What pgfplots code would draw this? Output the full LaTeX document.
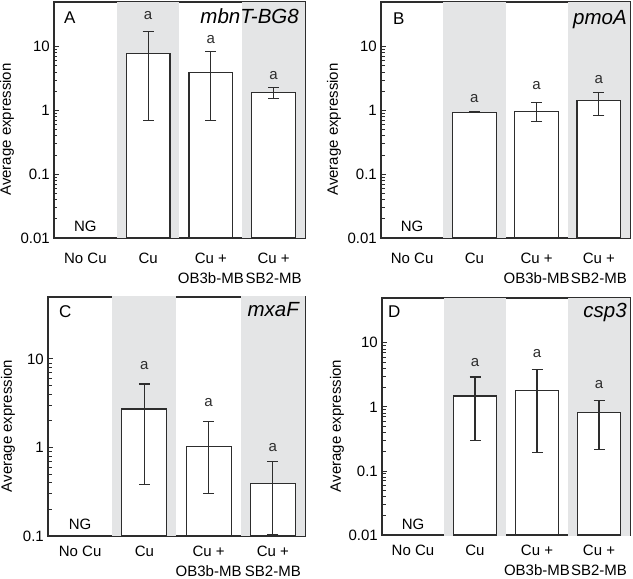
\documentclass[border=0pt]{standalone}
\usepackage{fontspec}
\setmainfont{Liberation Sans}
\usepackage{pgfplots}
\pgfplotsset{compat=1.18}
\usepackage{pgfplotstable}

\definecolor{band}{RGB}{228,229,230}
\definecolor{ink}{RGB}{45,45,45}

% x = category, y = mean, ep/em = error up/down, a = position of letter
\pgfplotstableread{
x y ep em a
1 7.9 9.2 7.2 27.0
2 3.95 4.45 3.25 11.0
3 1.93 0.37 0.40 3.03
}\dataA
\pgfplotstableread{
x y ep em a
1 0.94 0.02 0.02 1.35
2 0.97 0.38 0.31 2.1
3 1.43 0.50 0.59 2.6
}\dataB
\pgfplotstableread{
x y ep em a
1 2.72 2.48 2.34 7.55
2 1.02 0.93 0.715 2.89
3 0.39 0.30 0.286 0.91
}\dataC
\pgfplotstableread{
x y ep em a
1 1.48 1.44 1.18 4.24
2 1.82 2.03 1.624 5.85
3 0.82 0.42 0.607 1.95
}\dataD

\pgfplotsset{
  mypanel/.style={
    scale only axis,
    anchor=south west,
    log origin y=infty,
    xmin=-0.5, xmax=3.5,
    ymax=50,
    xtick={0,1,2,3},
    xticklabels={No Cu, Cu, {Cu +\\[2.5pt]OB3b-MB}, {Cu +\\[2.5pt]SB2-MB}},
    major x tick style={draw=none},
    ytick pos=left,
    tick align=inside,
    major tick length=5pt, minor tick length=3.5pt,
    yticklabel style={font=\fontsize{15}{18}\selectfont, inner xsep=0pt, xshift=-4pt},
    log ticks with fixed point,
    /pgf/number format/assume math mode=true,
    axis line style={ink, line width=1.2pt},
    every tick/.style={ink, line width=0.8pt},
    ylabel={Average expression},
  },
  myxlab/.style={xticklabel style={align=center, font=\fontsize{15}{17.5}\selectfont, yshift=-#1}},
  myylshift/.style={every axis y label/.style={at={([xshift=-#1]axis description cs:0,0.46)}, rotate=90, anchor=center, font=\fontsize{15}{18}\selectfont}},
  mybars/.style={ybar, bar width=0.7, fill=white, draw=ink, line width=1.2pt,
    error bars/.cd, y dir=both, y explicit,
    error bar style={ink, line width=1.1pt},
    error mark options={ink, line width=1.1pt, mark size=5.5pt, rotate=90}},
  myletters/.style={draw=none, mark=none, nodes near coords={a},
    every node near coord/.append style={anchor=base, inner sep=0pt, font=\fontsize{15}{18}\selectfont, text=ink}},
}

\newcommand{\bands}{%
  \addplot[fill=band, draw=none, forget plot] coordinates {(0.5,1e-4) (1.5,1e-4) (1.5,1e4) (0.5,1e4)} -- cycle;
  \addplot[fill=band, draw=none, forget plot] coordinates {(2.5,1e-4) (3.5,1e-4) (3.5,1e4) (2.5,1e4)} -- cycle;
}

\begin{document}
\begin{tikzpicture}
\useasboundingbox (0,0) rectangle (633pt,579pt);

% Panel A
\begin{axis}[ymode=log, mypanel, myxlab=11pt, myylshift=47pt, at={(54pt,341pt)}, width=251pt, height=236pt,
  ymin=0.01, ytick={0.01,0.1,1,10}]
  \bands
  \addplot[mybars] table[x=x, y=y, y error plus=ep, y error minus=em]{\dataA};
  \addplot[myletters] table[x=x, y=a]{\dataA};
  \node[anchor=base west, inner sep=0pt, font=\fontsize{17}{20}\selectfont] at ([xshift=10pt,yshift=-21pt]rel axis cs:0,1) {A};
  \node[anchor=base east, inner sep=0pt, font=\fontsize{20.5}{24}\selectfont\itshape] at ([xshift=-6pt,yshift=-21pt]rel axis cs:1,1) {mbnT-BG8};
  \node[anchor=base, inner sep=0pt, font=\fontsize{15}{18}\selectfont] at ([yshift=6pt]rel axis cs:0.125,0) {NG};
\end{axis}

% Panel B
\begin{axis}[ymode=log, mypanel, myxlab=11pt, myylshift=47pt, at={(381pt,341pt)}, width=249pt, height=236pt,
  ymin=0.01, ytick={0.01,0.1,1,10}]
  \bands
  \addplot[mybars] table[x=x, y=y, y error plus=ep, y error minus=em]{\dataB};
  \addplot[myletters] table[x=x, y=a]{\dataB};
  \node[anchor=base west, inner sep=0pt, font=\fontsize{17}{20}\selectfont] at ([xshift=12pt,yshift=-22pt]rel axis cs:0,1) {B};
  \node[anchor=base east, inner sep=0pt, font=\fontsize{20.5}{24}\selectfont\itshape] at ([xshift=-3pt,yshift=-22pt]rel axis cs:1,1) {pmoA};
  \node[anchor=base, inner sep=0pt, font=\fontsize{15}{18}\selectfont] at ([yshift=6pt]rel axis cs:0.125,0) {NG};
\end{axis}

% Panel C
\begin{axis}[ymode=log, mypanel, myxlab=6pt, myylshift=40pt, at={(48pt,43pt)}, width=257pt, height=239pt,
  ymin=0.1, ytick={0.1,1,10}]
  \bands
  \addplot[mybars] table[x=x, y=y, y error plus=ep, y error minus=em]{\dataC};
  \addplot[myletters] table[x=x, y=a]{\dataC};
  \node[anchor=base west, inner sep=0pt, font=\fontsize{17}{20}\selectfont] at ([xshift=11pt,yshift=-21pt]rel axis cs:0,1) {C};
  \node[anchor=base east, inner sep=0pt, font=\fontsize{20.5}{24}\selectfont\itshape] at ([xshift=-6pt,yshift=-20pt]rel axis cs:1,1) {mxaF};
  \node[anchor=base, inner sep=0pt, font=\fontsize{15}{18}\selectfont] at ([yshift=6pt]rel axis cs:0.125,0) {NG};
\end{axis}

% Panel D
\begin{axis}[ymode=log, mypanel, myxlab=6pt, myylshift=45pt, at={(382pt,44pt)}, width=248pt, height=237pt,
  ymin=0.01, ytick={0.01,0.1,1,10}]
  \bands
  \addplot[mybars] table[x=x, y=y, y error plus=ep, y error minus=em]{\dataD};
  \addplot[myletters] table[x=x, y=a]{\dataD};
  \node[anchor=base west, inner sep=0pt, font=\fontsize{17}{20}\selectfont] at ([xshift=6pt,yshift=-19pt]rel axis cs:0,1) {D};
  \node[anchor=base east, inner sep=0pt, font=\fontsize{20.5}{24}\selectfont\itshape] at ([xshift=-3pt,yshift=-19pt]rel axis cs:1,1) {csp3};
  \node[anchor=base, inner sep=0pt, font=\fontsize{15}{18}\selectfont] at ([yshift=6pt]rel axis cs:0.125,0) {NG};
\end{axis}
\end{tikzpicture}
\end{document}
